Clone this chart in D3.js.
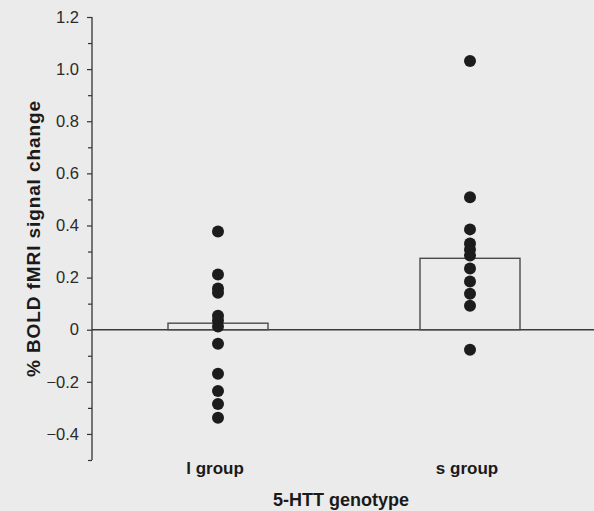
<!DOCTYPE html>
<html>
<head>
<meta charset="utf-8">
<script src="https://cdn.jsdelivr.net/npm/d3@7"></script>
<style>
  html, body { margin: 0; padding: 0; background: #ebebeb; }
  svg { display: block; font-family: "Liberation Sans", Arial, Helvetica, sans-serif; }
</style>
</head>
<body>
<svg id="chart" width="594" height="511"></svg>
<script>
const categories = ["l group", "s group"];
const barValues = [0.025, 0.274];
const lGroupPoints = [0.377, 0.212, 0.158, 0.142, 0.054, 0.035, 0.012, -0.054, -0.169, -0.235, -0.285, -0.338];
const sGroupPoints = [1.031, 0.508, 0.385, 0.331, 0.308, 0.285, 0.235, 0.185, 0.138, 0.092, -0.077];
const majorTicks = [-0.4, -0.2, 0, 0.2, 0.4, 0.6, 0.8, 1.0, 1.2];
const minorTicks = [-0.5, -0.3, -0.1, 0.1, 0.3, 0.5, 0.7, 0.9, 1.1];
const yTitle = "% BOLD fMRI signal change";
const xTitle = "5-HTT genotype";

const svg = d3.select("#chart");
const axisX = 92;
const y = d3.scaleLinear().domain([-0.5, 1.2]).range([460, 17]);
const x = d3.scalePoint().domain(categories).range([axisX, 596]).padding(0.5);
const barW = 100;
const ink = "#1a1a1a";

// zero line
svg.append("line")
  .attr("x1", axisX).attr("x2", 594)
  .attr("y1", y(0)).attr("y2", y(0))
  .attr("stroke", "#3a3a3a").attr("stroke-width", 1.5);

// bars
svg.selectAll("rect.bar").data(categories).enter().append("rect")
  .attr("class", "bar")
  .attr("x", d => x(d) - barW / 2)
  .attr("width", barW)
  .attr("y", (d, i) => y(barValues[i]))
  .attr("height", (d, i) => y(0) - y(barValues[i]))
  .attr("fill", "none")
  .attr("stroke", "#4a4a4a").attr("stroke-width", 1.4);

// points
const groups = [lGroupPoints, sGroupPoints];
groups.forEach((pts, gi) => {
  svg.append("g").selectAll("circle").data(pts).enter().append("circle")
    .attr("cx", x(categories[gi]))
    .attr("cy", d => y(d))
    .attr("r", 6)
    .attr("fill", "#1c1c1c");
});

// y axis
const fmt = v => v === 0 ? "0" : (v < 0 ? "\u2212" + d3.format(".1f")(-v) : d3.format(".1f")(v));
const gMajor = svg.append("g").attr("transform", `translate(${axisX},0)`)
  .call(d3.axisLeft(y).tickValues(majorTicks).tickFormat(fmt).tickSize(5).tickPadding(8).tickSizeOuter(0));
gMajor.select(".domain").attr("stroke", "#333").attr("stroke-width", 1.3)
  .attr("d", `M0,${y(-0.5)}V${y(1.2)}`);
gMajor.selectAll(".tick line").attr("stroke", "#333").attr("stroke-width", 1.2);
gMajor.selectAll(".tick text").attr("fill", "#2a2a2a").style("font-size", "16.5px")
  .style("font-family", "'Liberation Sans', Arial, sans-serif");

const gMinor = svg.append("g").attr("transform", `translate(${axisX},0)`)
  .call(d3.axisLeft(y).tickValues(minorTicks).tickFormat("").tickSize(4).tickSizeOuter(0));
gMinor.select(".domain").remove();
gMinor.selectAll(".tick line").attr("stroke", "#333").attr("stroke-width", 1.2);

// category labels
svg.selectAll("text.cat").data(categories).enter().append("text")
  .attr("class", "cat")
  .attr("x", d => x(d) - 3)
  .attr("y", 474)
  .attr("text-anchor", "middle")
  .attr("fill", ink)
  .style("font-size", "17px").style("font-weight", "bold")
  .text(d => d);

// x title
svg.append("text")
  .attr("x", 341).attr("y", 506)
  .attr("text-anchor", "middle")
  .attr("fill", ink)
  .style("font-size", "18px").style("font-weight", "bold")
  .text(xTitle);

// y title
svg.append("text")
  .attr("transform", `translate(40,239) rotate(-90)`)
  .attr("text-anchor", "middle")
  .attr("fill", ink)
  .style("font-size", "19px").style("font-weight", "bold")
  .attr("textLength", 276).attr("lengthAdjust", "spacing")
  .text(yTitle);
</script>
</body>
</html>
